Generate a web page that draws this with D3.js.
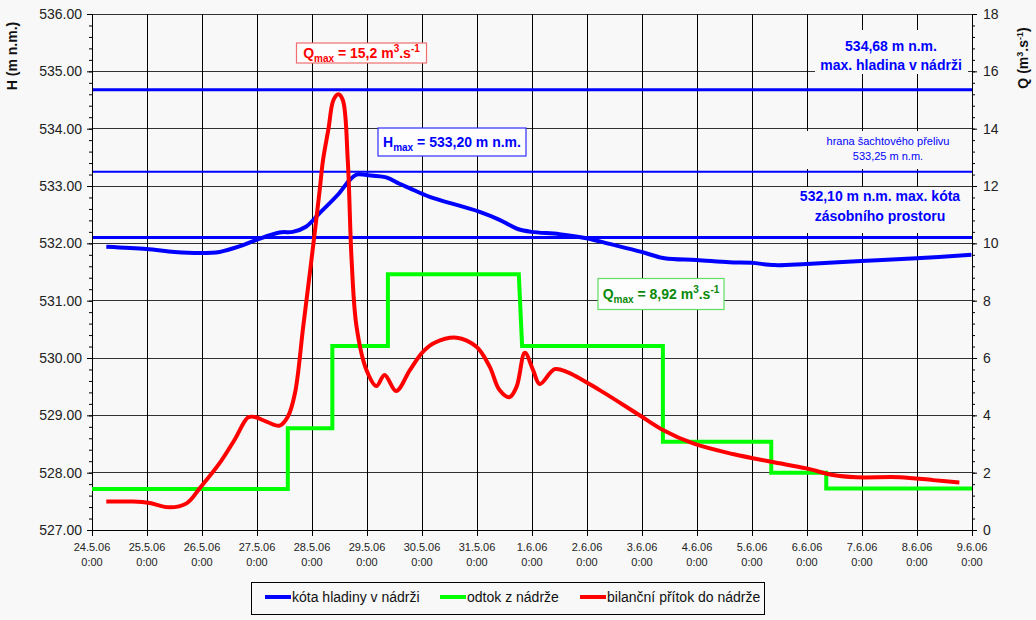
<!DOCTYPE html>
<html><head><meta charset="utf-8">
<script src="https://cdn.jsdelivr.net/npm/d3@7"></script>
<style>
html,body{margin:0;padding:0;background:#f8f8f8;}
svg{display:block;font-family:Arial,"Liberation Sans",sans-serif;}
</style></head>
<body>
<svg id="c" width="1036" height="620"></svg>
<script>
// ---- data (days since 24.5.2006 0:00) ----
const startDate = Date.UTC(2006, 4, 24);
const endDate = Date.UTC(2006, 5, 9);

const levelDays = [0.26,0.99,1.50,1.96,2.32,2.69,2.99,3.41,3.65,3.89,4.13,4.49,4.68,4.81,4.99,5.35,5.59,5.78,6.14,6.74,7.05,7.41,7.59,7.74,7.99,8.50,8.99,9.41,9.99,10.41,10.99,11.59,11.99,12.41,12.99,13.99,14.99,15.99];
const levelH = [531.94,531.90,531.85,531.83,531.85,531.95,532.06,532.19,532.20,532.29,532.52,532.87,533.10,533.20,533.19,533.15,533.04,532.96,532.81,532.64,532.55,532.41,532.32,532.25,532.20,532.16,532.09,531.99,531.85,531.74,531.71,531.67,531.66,531.62,531.64,531.69,531.74,531.80];

const inflowDays = [0.26,0.74,1.05,1.41,1.72,1.96,2.32,2.59,2.84,2.96,3.17,3.41,3.56,3.69,3.84,3.99,4.14,4.20,4.30,4.39,4.48,4.56,4.65,4.72,4.81,4.99,5.17,5.32,5.53,5.78,6.02,6.23,6.63,6.99,7.23,7.41,7.59,7.72,7.87,8.02,8.14,8.41,8.63,9.23,9.95,10.38,10.93,11.65,12.35,12.99,13.47,13.90,14.69,15.29,15.77];
const inflowQ = [0.99,0.99,0.94,0.79,0.93,1.46,2.33,3.14,3.93,3.94,3.78,3.64,3.95,4.77,7.09,9.42,11.86,12.9,14.0,15.0,15.2,15.0,12.9,9.42,7.09,5.58,5.02,5.41,4.85,5.58,6.22,6.53,6.71,6.39,5.70,4.88,4.63,5.00,6.18,5.58,5.09,5.61,5.52,4.88,4.01,3.49,3.02,2.65,2.38,2.15,1.92,1.84,1.84,1.74,1.66];

const outflowDays = [0,3.56,3.56,4.37,4.37,5.38,5.38,7.76,7.82,10.38,10.38,12.35,12.35,13.35,13.35,16];
const outflowQ = [1.43,1.43,3.55,3.55,6.42,6.42,8.92,8.92,6.42,6.42,3.08,3.08,2.00,2.00,1.45,1.45];

const hTicks = [527,528,529,530,531,532,533,534,535,536];
const qTicks = [0,2,4,6,8,10,12,14,16,18];
const refLevels = [534.68, 533.25, 532.10];
const refWidths = [3, 2, 3];
const legendLabels = ["kóta hladiny v nádrži", "odtok z nádrže", "bilanční přítok do nádrže"];
const seriesColors = ["#0000ff", "#00ff00", "#ff0000"];

// ---- layout ----
const L = 92, T = 14, R = 972, B = 530;
const svg = d3.select("#c");
svg.append("rect").attr("width",1036).attr("height",620).attr("fill","#f8f8f8");

const x = d3.scaleUtc().domain([new Date(startDate), new Date(endDate)]).range([L, R]);
const yH = d3.scaleLinear().domain([527, 536]).range([B, T]);
const yQ = d3.scaleLinear().domain([0, 18]).range([B, T]);
const dayToDate = d => new Date(startDate + d * 864e5);
const xDays = d3.utcDay.range(new Date(startDate), new Date(endDate + 1));

// gridlines
const g = svg.append("g");
g.selectAll(".hg").data(hTicks).join("line")
  .attr("x1", L).attr("x2", R).attr("y1", d => yH(d)).attr("y2", d => yH(d))
  .attr("stroke", "#333").attr("stroke-width", 1).attr("shape-rendering","crispEdges");
g.selectAll(".vg").data(xDays).join("line")
  .attr("x1", d => x(d)).attr("x2", d => x(d)).attr("y1", T).attr("y2", B)
  .attr("stroke", "#000").attr("stroke-width", 1).attr("shape-rendering","crispEdges");

// text background boxes (cover gridlines)
const bgBoxes = [[815, 30, 153, 44], [795, 131, 175, 38], [795, 187, 175, 46]];
g.selectAll(".bg").data(bgBoxes).join("rect")
  .attr("x", d => d[0]).attr("y", d => d[1]).attr("width", d => d[2]).attr("height", d => d[3])
  .attr("fill", "#f8f8f8");

// reference lines
svg.selectAll(".ref").data(refLevels).join("line")
  .attr("x1", L).attr("x2", R).attr("y1", d => yH(d)).attr("y2", d => yH(d))
  .attr("stroke", "#0000ff").attr("stroke-width", (d, i) => refWidths[i]);

// axes
const fmtH = d3.format(".2f");
const axL = d3.axisLeft(yH).tickValues(hTicks).tickFormat(fmtH).tickSize(5).tickPadding(5);
const axLm = d3.axisLeft(yH).tickValues(d3.range(527, 536.001, 0.2)).tickFormat("").tickSize(3);
const axR = d3.axisRight(yQ).tickValues(qTicks).tickSize(5).tickPadding(6);
const axRm = d3.axisRight(yQ).tickValues(d3.range(0, 18.001, 0.4)).tickFormat("").tickSize(3);
const axB = d3.axisBottom(x).tickValues(xDays).tickSize(6).tickFormat("");

function styleAxis(sel){
  sel.select(".domain").attr("stroke","#000");
  sel.selectAll(".tick line").attr("stroke","#000");
  sel.selectAll("text").attr("fill","#222").attr("font-size",14).attr("font-family","Arial, 'Liberation Sans', sans-serif");
}
svg.append("g").attr("transform",`translate(${L},0)`).call(axLm).call(styleAxis);
svg.append("g").attr("transform",`translate(${L},0)`).call(axL).call(styleAxis);
svg.append("g").attr("transform",`translate(${R},0)`).call(axRm).call(styleAxis);
svg.append("g").attr("transform",`translate(${R},0)`).call(axR).call(styleAxis);
svg.append("g").attr("transform",`translate(0,${B})`).call(axB).call(styleAxis);

const fmtD = d3.utcFormat("%-d.%-m.%y");
const xl = svg.append("g").selectAll("text").data(xDays).join("text")
  .attr("x", d => x(d)).attr("text-anchor","middle").attr("font-size",11).attr("fill","#222");
xl.append("tspan").attr("x", d => x(d)).attr("y", 551).text(d => fmtD(d));
xl.append("tspan").attr("x", d => x(d)).attr("y", 566).text("0:00");

// axis titles
svg.append("text").attr("transform","translate(17,56) rotate(-90)").attr("text-anchor","middle")
  .attr("font-size",14).attr("font-weight","bold").attr("fill","#111").text("H (m n.m.)");
const qt = svg.append("text").attr("transform","translate(1028,58) rotate(-90)").attr("text-anchor","middle")
  .attr("font-size",14).attr("font-weight","bold").attr("fill","#111");
qt.append("tspan").text("Q (m");
qt.append("tspan").attr("dy",-5).attr("font-size",9).text("3");
qt.append("tspan").attr("dy",5).text(".s");
qt.append("tspan").attr("dy",-5).attr("font-size",9).text("-1");
qt.append("tspan").attr("dy",5).text(")");

// series
const levelData = levelDays.map((d, i) => [dayToDate(d), levelH[i]]);
const outData = outflowDays.map((d, i) => [dayToDate(d), outflowQ[i]]);
const inData = inflowDays.map((d, i) => [dayToDate(d), inflowQ[i]]);

svg.append("path").datum(levelData)
  .attr("d", d3.line().x(d => x(d[0])).y(d => yH(d[1])).curve(d3.curveCatmullRom.alpha(0.5)))
  .attr("fill","none").attr("stroke",seriesColors[0]).attr("stroke-width",4).attr("stroke-linejoin","round");
svg.append("path").datum(outData)
  .attr("d", d3.line().x(d => x(d[0])).y(d => yQ(d[1])))
  .attr("fill","none").attr("stroke",seriesColors[1]).attr("stroke-width",4);
svg.append("path").datum(inData)
  .attr("d", d3.line().x(d => x(d[0])).y(d => yQ(d[1])).curve(d3.curveCatmullRom.alpha(0.5)))
  .attr("fill","none").attr("stroke",seriesColors[2]).attr("stroke-width",4).attr("stroke-linejoin","round");

// annotation boxes with sub/superscripts
function qBox(cx, cy, w, h, color, stroke, parts){
  const grp = svg.append("g");
  grp.append("rect").attr("x", cx - w/2).attr("y", cy - h/2).attr("width", w).attr("height", h)
    .attr("fill","#fdfdfd").attr("stroke", stroke).attr("stroke-width",1.2);
  const t = grp.append("text").attr("x", cx).attr("y", cy + 5).attr("text-anchor","middle")
    .attr("font-size",14).attr("font-weight","bold").attr("fill", color);
  let cur = 0;
  parts.forEach(p => {
    const shift = p[1] === "sub" ? 4 : p[1] === "sup" ? -6 : 0;
    t.append("tspan").attr("dy", shift - cur).attr("font-size", p[1] ? 10 : 14).text(p[0]);
    cur = shift;
  });
}
qBox(361.5, 53, 130, 20, "#ff0000", "#f07070",
  [["Q"],["max","sub"],[" = 15,2 m"],["3","sup"],[".s"],["-1","sup"]]);
qBox(452, 142, 148, 28, "#0000ff", "#3030ff",
  [["H"],["max","sub"],[" = 533,20 m n.m."]]);
qBox(661, 294, 126, 31, "#0a8a0a", "#60e060",
  [["Q"],["max","sub"],[" = 8,92 m"],["3","sup"],[".s"],["-1","sup"]]);

// reference labels
const refTexts = [
  {x: 891, ys: [51, 70], lines: ["534,68 m n.m.", "max. hladina v nádrži"], size: 14, bold: true},
  {x: 888, ys: [145, 160], lines: ["hrana šachtového přelivu", "533,25 m n.m."], size: 11, bold: false},
  {x: 880, ys: [201, 221], lines: ["532,10 m n.m. max. kóta", "zásobního prostoru"], size: 14, bold: true}
];
refTexts.forEach(r => {
  r.lines.forEach((ln, i) => {
    svg.append("text").attr("x", r.x).attr("y", r.ys[i]).attr("text-anchor","middle")
      .attr("font-size", r.size).attr("font-weight", r.bold ? "bold" : "normal")
      .attr("fill","#0000ff").text(ln);
  });
});

// legend
const lg = svg.append("g");
lg.append("rect").attr("x",251.5).attr("y",582.5).attr("width",513).attr("height",32)
  .attr("fill","#f8f8f8").attr("stroke","#000").attr("stroke-width",1);
const legX = [265, 440, 580];
legendLabels.forEach((lbl, i) => {
  lg.append("line").attr("x1", legX[i]).attr("x2", legX[i] + 26).attr("y1", 597).attr("y2", 597)
    .attr("stroke", seriesColors[i]).attr("stroke-width", 4);
  lg.append("text").attr("x", legX[i] + 27).attr("y", 602).attr("font-size", 14).attr("fill","#111").text(lbl);
});
</script>
</body></html>
